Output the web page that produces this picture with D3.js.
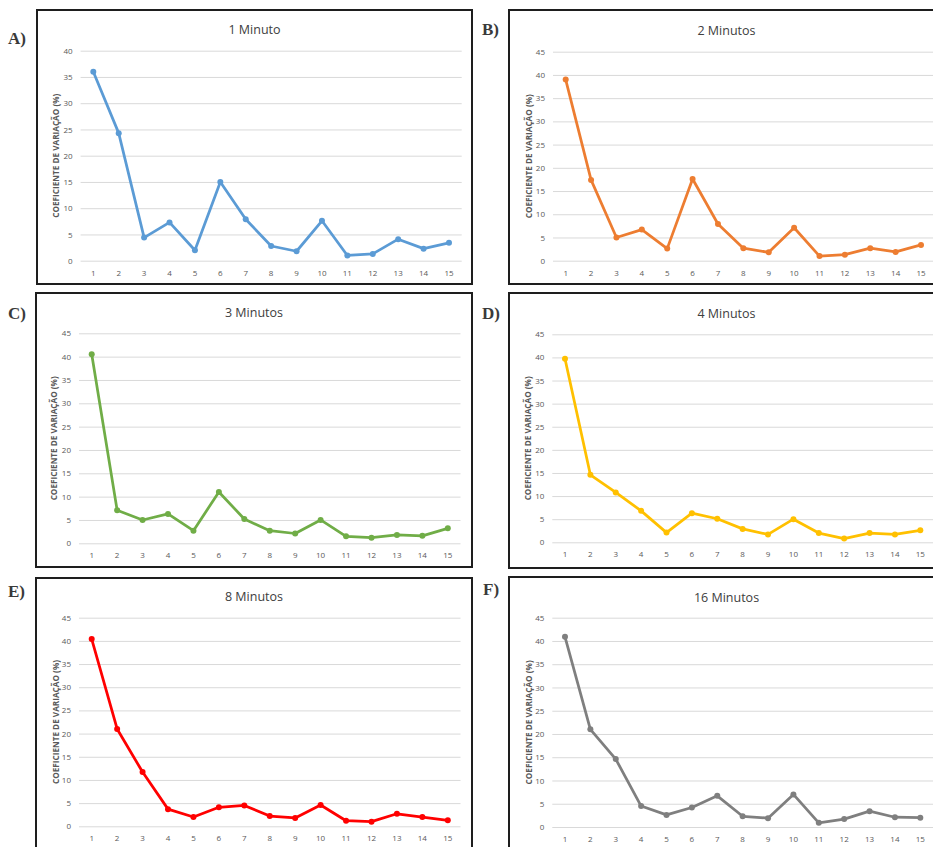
<!DOCTYPE html>
<html>
<head>
<meta charset="utf-8">
<script src="https://cdn.jsdelivr.net/npm/d3@7/dist/d3.min.js"></script>
<style>
  body { margin: 0; background: #fff; }
  svg { display: block; }
</style>
</head>
<body>
<svg id="fig" width="933" height="847"></svg>
<script>
// Coefficient of variation (%) per sample index, one series per acquisition time
const categories = [1, 2, 3, 4, 5, 6, 7, 8, 9, 10, 11, 12, 13, 14, 15];
const titles = ["1 Minuto", "2 Minutos", "3 Minutos", "4 Minutos", "8 Minutos", "16 Minutos"];
const letters = ["A)", "B)", "C)", "D)", "E)", "F)"];
const cv1min  = [36.0, 24.3, 4.4, 7.3, 2.0, 15.0, 7.9, 2.8, 1.8, 7.6, 1.0, 1.3, 4.1, 2.3, 3.4];
const cv2min  = [39.0, 17.4, 5.0, 6.7, 2.6, 17.6, 7.9, 2.7, 1.8, 7.1, 1.0, 1.3, 2.7, 1.9, 3.4];
const cv3min  = [40.5, 7.1, 5.0, 6.3, 2.7, 11.0, 5.2, 2.7, 2.1, 5.0, 1.5, 1.2, 1.8, 1.6, 3.2];
const cv4min  = [39.7, 14.6, 10.8, 6.8, 2.1, 6.3, 5.1, 2.9, 1.7, 5.0, 2.0, 0.8, 2.0, 1.7, 2.6];
const cv8min  = [40.4, 21.0, 11.7, 3.7, 2.0, 4.1, 4.5, 2.2, 1.8, 4.6, 1.2, 1.0, 2.7, 2.0, 1.3];
const cv16min = [40.9, 21.0, 14.6, 4.5, 2.6, 4.2, 6.7, 2.3, 1.9, 7.0, 0.9, 1.7, 3.4, 2.1, 2.0];
const yTicks40 = [0, 5, 10, 15, 20, 25, 30, 35, 40];
const yTicks45 = [0, 5, 10, 15, 20, 25, 30, 35, 40, 45];
const colors = ["#5B9BD5", "#ED7D31", "#70AD47", "#FFC000", "#FF0000", "#7F7F7F"];
const yTitle = "COEFICIENTE DE VARIAÇÃO (%)";

const series = [cv1min, cv2min, cv3min, cv4min, cv8min, cv16min];
const ticksPerPanel = [yTicks40, yTicks45, yTicks45, yTicks45, yTicks45, yTicks45];

// Frame, plot area and label placement for each panel
const layout = [
  { box: [37, 10, 472, 284],  plot: [80.6, 461.7, 260.7, 50.7],  letter: [8, 44],    titleY: 34,    yTitleX: 55 },
  { box: [509, 10, 944, 284], plot: [553, 933.7, 260.7, 51.7],   letter: [482, 35],  titleY: 34.7,  yTitleX: 528.3 },
  { box: [36, 293, 472, 567], plot: [79, 460.5, 543.3, 333.3],   letter: [8, 319],   titleY: 317.4, yTitleX: 53.5 },
  { box: [509, 293, 944, 568], plot: [552.3, 933, 542.3, 334.3], letter: [482, 319], titleY: 318,   yTitleX: 527.3 },
  { box: [36, 578, 472, 880], plot: [79, 460.5, 826.3, 617.7],   letter: [8, 597],   titleY: 601.4, yTitleX: 55 },
  { box: [509, 577, 944, 880], plot: [552.3, 933, 827, 617.7],   letter: [483, 595], titleY: 602,   yTitleX: 528.3 }
];

const svg = d3.select("#fig");
const sans = "'Open Sans', 'Noto Sans', sans-serif";

series.forEach((values, i) => {
  const L = layout[i];
  const [bx0, by0, bx1, by1] = L.box;
  const [px0, px1, py0, pyTop] = L.plot;
  const ticks = ticksPerPanel[i];
  const yMax = ticks[ticks.length - 1];

  const g = svg.append("g");

  // panel frame
  g.append("rect")
    .attr("x", bx0).attr("y", by0)
    .attr("width", bx1 - bx0).attr("height", by1 - by0)
    .attr("fill", "#fff").attr("stroke", "#1e1e1e").attr("stroke-width", 2);

  // panel letter
  svg.append("text")
    .attr("x", L.letter[0]).attr("y", L.letter[1])
    .attr("font-family", "'Liberation Serif', 'DejaVu Serif', serif")
    .attr("font-size", 17).attr("font-weight", "bold").attr("fill", "#3a3a3a")
    .text(letters[i]);

  const x = d3.scaleBand().domain(categories).range([px0, px1]);
  const y = d3.scaleLinear().domain([0, yMax]).range([py0, pyTop]);
  const cx = d => x(d) + x.bandwidth() / 2;

  // y gridlines and labels
  const yAxis = g.append("g")
    .attr("transform", `translate(${px0},0)`)
    .call(d3.axisLeft(y).tickValues(ticks).tickSize(-(px1 - px0)).tickPadding(8).tickFormat(d3.format("d")));
  yAxis.select(".domain").remove();
  yAxis.selectAll(".tick line").attr("stroke", "#d9d9d9").attr("stroke-width", 1);
  yAxis.selectAll(".tick text").attr("fill", "#595959").attr("font-size", 8).attr("font-family", sans);

  // x category labels
  const xAxis = g.append("g")
    .attr("transform", `translate(0,${py0})`)
    .call(d3.axisBottom(x).tickSize(0).tickPadding(9.5));
  xAxis.select(".domain").remove();
  xAxis.selectAll(".tick text").attr("fill", "#595959").attr("font-size", 8).attr("font-family", sans);

  // title
  g.append("text")
    .attr("x", (bx0 + bx1) / 2).attr("y", L.titleY)
    .attr("text-anchor", "middle")
    .attr("font-family", sans).attr("font-size", 12.5).attr("fill", "#404040")
    .text(titles[i]);

  // y-axis title
  g.append("text")
    .attr("transform", `translate(${L.yTitleX},${(py0 + pyTop) / 2}) rotate(-90)`)
    .attr("text-anchor", "middle").attr("dominant-baseline", "central")
    .attr("font-family", sans).attr("font-size", 8.2).attr("font-weight", "bold").attr("fill", "#595959")
    .text(yTitle);

  const pts = categories.map((c, k) => ({ c, v: values[k] }));

  g.append("path")
    .datum(pts)
    .attr("fill", "none").attr("stroke", colors[i]).attr("stroke-width", 2.75)
    .attr("stroke-linejoin", "round")
    .attr("d", d3.line().x(d => cx(d.c)).y(d => y(d.v)));

  g.selectAll("circle.pt")
    .data(pts).enter().append("circle")
    .attr("class", "pt")
    .attr("cx", d => cx(d.c)).attr("cy", d => y(d.v))
    .attr("r", 3).attr("fill", colors[i]);
});
</script>
</body>
</html>
